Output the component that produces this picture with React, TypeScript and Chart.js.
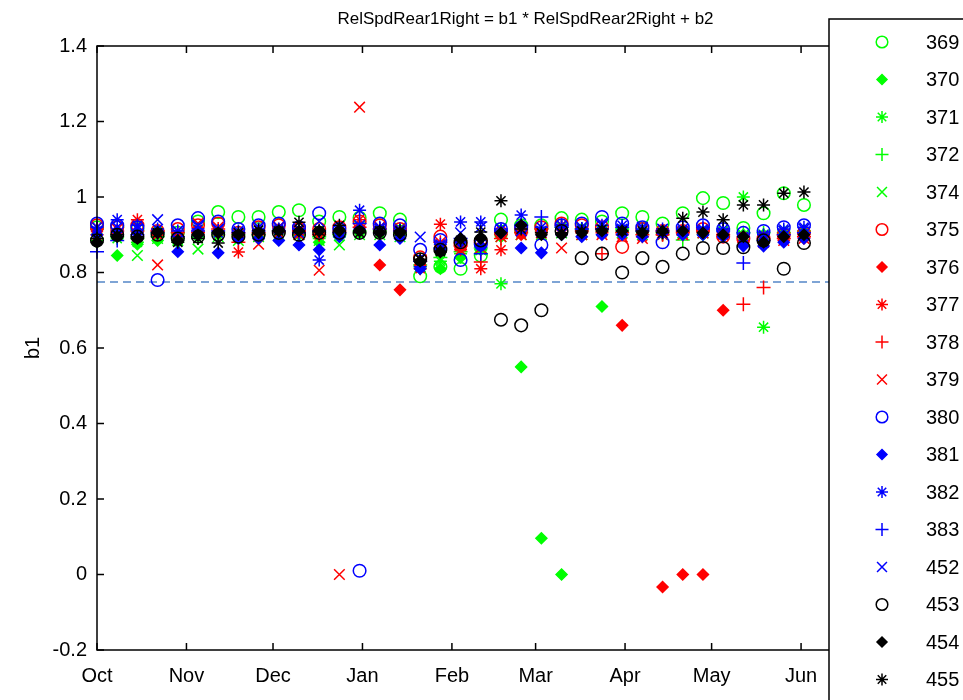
import React, { useEffect, useRef } from "react";
import { Chart, registerables } from "chart.js";
import { drawPoint } from "chart.js/helpers";

Chart.register(...registerables);

// ---------- data ----------
const titleText = "RelSpdRear1Right = b1 * RelSpdRear2Right + b2";
const yAxisLabel = "b1";

// days since 1 Oct (weekly samples)
const weekDays = [0, 7, 14, 21, 28, 35, 42, 49, 56, 63, 70, 77, 84, 91, 98, 105, 112, 119, 126, 133, 140, 147, 154, 161, 168, 175, 182, 189, 196, 203, 210, 217, 224, 231, 238, 245];

const monthTickDays = [0, 31, 61, 92, 123, 152, 183, 213, 244];
const monthLabels = ["Oct", "Nov", "Dec", "Jan", "Feb", "Mar", "Apr", "May", "Jun"];

const xMin = 0;
const xMax = 297;
const yMin = -0.2;
const yMax = 1.4;
const yStep = 0.2;
const refLine = 0.775;

const seriesNames = ["369", "370", "371", "372", "374", "375", "376", "377", "378", "379", "380", "381", "382", "383", "452", "453", "454", "455"];

const s369 = [0.92, 0.92, 0.915, 0.905, 0.905, 0.935, 0.96, 0.947, 0.947, 0.96, 0.965, 0.935, 0.947, 0.945, 0.957, 0.94, 0.79, 0.815, 0.81, 0.845, 0.94, 0.925, 0.925, 0.944, 0.94, 0.935, 0.957, 0.947, 0.93, 0.957, 0.997, 0.984, 0.918, 0.957, 1.01, 0.979];
const s370 = [0.88, 0.845, 0.875, 0.885, 0.88, 0.895, 0.9, 0.89, 0.89, 0.905, 0.9, 0.88, 0.895, 0.905, 0.905, 0.9, 0.81, 0.81, 0.84, 0.86, 0.895, 0.55, 0.096, 0, 0.915, 0.71, 0.915, 0.9, 0.905, 0.9, 0.9, 0.905, 0.9, 0.9, 0.905, 0.91];
const s371 = [0.885, 0.89, 0.88, 0.895, 0.885, 0.89, 0.905, 0.895, 0.895, 0.905, 0.905, 0.89, 0.895, 0.91, 0.905, 0.905, 0.815, 0.83, 0.85, 0.86, 0.77, 0.905, 0.91, 0.915, 0.91, 0.91, 0.91, 0.905, 0.9, 0.91, 0.915, 0.91, 1.0, 0.655, 0.91, 0.905];
const s372 = [0.89, 0.895, 0.89, 0.895, 0.89, 0.895, 0.905, 0.9, 0.9, 0.91, 0.905, 0.895, 0.9, 0.91, 0.91, 0.905, 0.82, 0.84, 0.855, 0.865, 0.9, 0.91, 0.915, 0.92, 0.915, 0.915, 0.915, 0.91, 0.905, 0.886, 0.915, 0.915, 0.905, 0.905, 0.905, 0.91];
const s374 = [0.89, 0.9, 0.845, 0.89, 0.885, 0.862, 0.895, 0.885, 0.895, 0.9, 0.9, 0.885, 0.873, 0.9, 0.9, 0.895, 0.815, 0.835, 0.85, 0.86, 0.895, 0.9, 0.9, 0.905, 0.9, 0.91, 0.905, 0.9, 0.9, 0.905, 0.905, 0.9, 0.9, 0.9, 0.9, 0.905];
const s375 = [0.925, 0.92, 0.925, 0.91, 0.915, 0.925, 0.93, 0.905, 0.92, 0.925, 0.915, 0.915, 0.92, 0.935, 0.925, 0.915, 0.84, 0.895, 0.875, 0.88, 0.905, 0.915, 0.92, 0.93, 0.925, 0.92, 0.868, 0.915, 0.91, 0.91, 0.915, 0.895, 0.89, 0.89, 0.9, 0.905];
const s376 = [0.91, 0.91, 0.905, 0.905, 0.9, 0.905, 0.905, 0.895, 0.91, 0.915, 0.905, 0.905, 0.91, 0.92, 0.82, 0.754, 0.82, 0.87, 0.865, 0.87, 0.9, 0.9, 0.905, 0.915, 0.91, 0.91, 0.66, 0.905, -0.033, 0, 0, 0.7, 0.88, 0.88, 0.885, 0.89];
const s377 = [0.9, 0.905, 0.94, 0.9, 0.895, 0.91, 0.91, 0.854, 0.9, 0.905, 0.91, 0.9, 0.905, 0.94, 0.915, 0.91, 0.81, 0.928, 0.86, 0.81, 0.86, 0.905, 0.91, 0.925, 0.905, 0.905, 0.9, 0.895, 0.9, 0.9, 0.905, 0.905, 0.885, 0.885, 0.89, 0.895];
const s378 = [0.915, 0.91, 0.91, 0.91, 0.905, 0.905, 0.915, 0.88, 0.905, 0.91, 0.91, 0.9, 0.91, 0.92, 0.915, 0.91, 0.83, 0.88, 0.87, 0.828, 0.89, 0.905, 0.915, 0.925, 0.91, 0.85, 0.905, 0.9, 0.9, 0.905, 0.91, 0.9, 0.716, 0.76, 0.89, 0.895];
const s379 = [0.92, 0.915, 0.92, 0.82, 0.9, 0.93, 0.92, 0.9, 0.875, 0.92, 0.9, 0.806, 0, 1.238, 0.92, 0.915, 0.835, 0.88, 0.87, 0.865, 0.895, 0.9, 0.905, 0.865, 0.9, 0.9, 0.895, 0.89, 0.905, 0.9, 0.905, 0.9, 0.885, 0.88, 0.885, 0.89];
const s380 = [0.93, 0.925, 0.92, 0.78, 0.925, 0.944, 0.935, 0.915, 0.925, 0.93, 0.92, 0.957, 0.915, 0.01, 0.93, 0.925, 0.86, 0.886, 0.833, 0.875, 0.915, 0.92, 0.873, 0.925, 0.93, 0.947, 0.93, 0.92, 0.88, 0.92, 0.925, 0.915, 0.905, 0.91, 0.92, 0.925];
const s381 = [0.9, 0.91, 0.905, 0.91, 0.855, 0.9, 0.852, 0.89, 0.89, 0.885, 0.873, 0.86, 0.895, 0.915, 0.873, 0.89, 0.81, 0.86, 0.88, 0.87, 0.905, 0.865, 0.852, 0.9, 0.895, 0.9, 0.9, 0.895, 0.905, 0.9, 0.9, 0.895, 0.87, 0.87, 0.88, 0.89];
const s382 = [0.92, 0.94, 0.925, 0.915, 0.91, 0.915, 0.905, 0.91, 0.915, 0.915, 0.915, 0.833, 0.915, 0.965, 0.92, 0.915, 0.815, 0.875, 0.934, 0.934, 0.915, 0.952, 0.92, 0.925, 0.915, 0.925, 0.925, 0.915, 0.915, 0.91, 0.915, 0.915, 0.895, 0.9, 0.915, 0.92];
const s383 = [0.855, 0.885, 0.9, 0.905, 0.895, 0.91, 0.91, 0.905, 0.91, 0.91, 0.905, 0.91, 0.905, 0.93, 0.915, 0.91, 0.83, 0.865, 0.89, 0.85, 0.91, 0.925, 0.947, 0.92, 0.915, 0.915, 0.92, 0.91, 0.91, 0.915, 0.92, 0.91, 0.825, 0.885, 0.9, 0.905];
const s452 = [0.91, 0.92, 0.915, 0.94, 0.91, 0.925, 0.915, 0.905, 0.92, 0.92, 0.905, 0.935, 0.91, 0.925, 0.915, 0.91, 0.894, 0.87, 0.905, 0.92, 0.915, 0.91, 0.91, 0.915, 0.92, 0.93, 0.915, 0.92, 0.915, 0.915, 0.91, 0.905, 0.89, 0.895, 0.91, 0.915];
const s453 = [0.885, 0.9, 0.895, 0.9, 0.89, 0.895, 0.9, 0.895, 0.9, 0.905, 0.9, 0.905, 0.905, 0.905, 0.905, 0.9, 0.835, 0.86, 0.88, 0.885, 0.675, 0.66, 0.7, 0.91, 0.838, 0.85, 0.8, 0.838, 0.815, 0.85, 0.865, 0.865, 0.867, 0.885, 0.81, 0.878];
const s454 = [0.88, 0.895, 0.89, 0.905, 0.885, 0.9, 0.905, 0.9, 0.905, 0.91, 0.91, 0.91, 0.91, 0.91, 0.905, 0.905, 0.83, 0.855, 0.89, 0.89, 0.905, 0.925, 0.9, 0.9, 0.905, 0.91, 0.91, 0.905, 0.91, 0.91, 0.905, 0.9, 0.895, 0.88, 0.895, 0.9];
const s455 = [0.89, 0.9, 0.895, 0.905, 0.88, 0.89, 0.878, 0.905, 0.912, 0.91, 0.933, 0.91, 0.925, 0.905, 0.91, 0.91, 0.835, 0.855, 0.885, 0.907, 0.99, 0.915, 0.905, 0.905, 0.91, 0.915, 0.91, 0.91, 0.905, 0.944, 0.96, 0.94, 0.979, 0.979, 1.01, 1.013];

const seriesValues = [s369, s370, s371, s372, s374, s375, s376, s377, s378, s379, s380, s381, s382, s383, s452, s453, s454, s455];

const seriesColors = ["#00ff00", "#00ff00", "#00ff00", "#00ff00", "#00ff00", "#ff0000", "#ff0000", "#ff0000", "#ff0000", "#ff0000", "#0000ff", "#0000ff", "#0000ff", "#0000ff", "#0000ff", "#000000", "#000000", "#000000"];
const seriesMarkers = ["circle", "rectRot", "star", "cross", "crossRot", "circle", "rectRot", "star", "cross", "crossRot", "circle", "rectRot", "star", "cross", "crossRot", "circle", "rectRot", "star"];

// ---------- styling ----------
const FONT = '"Liberation Sans", Arial, Helvetica, sans-serif';
const markerRadius: Record<string, number> = { circle: 6.3, rectRot: 5.5, star: 6.5, cross: 7, crossRot: 7.5 };
const markerFill = (style: string, color: string) => (style === "rectRot" ? color : "rgba(0,0,0,0)");

const framePlugin = {
  id: "matlabFrame",
  afterDraw(chart: any) {
    const { ctx, chartArea: a, scales } = chart;
    const xs = scales.x;
    const ys = scales.y;
    ctx.save();
    // axes box
    ctx.strokeStyle = "#000";
    ctx.lineWidth = 1.5;
    ctx.strokeRect(a.left, a.top, a.right - a.left, a.bottom - a.top);
    ctx.beginPath();
    for (const d of monthTickDays) {
      const px = xs.getPixelForValue(d);
      ctx.moveTo(px, a.bottom);
      ctx.lineTo(px, a.bottom - 7);
      ctx.moveTo(px, a.top);
      ctx.lineTo(px, a.top + 7);
    }
    for (const t of ys.ticks) {
      const py = ys.getPixelForValue(t.value);
      ctx.moveTo(a.left, py);
      ctx.lineTo(a.left + 7, py);
      ctx.moveTo(a.right, py);
      ctx.lineTo(a.right - 7, py);
    }
    ctx.stroke();

    // title
    ctx.fillStyle = "#000";
    ctx.font = `17px ${FONT}`;
    ctx.textAlign = "center";
    ctx.textBaseline = "alphabetic";
    ctx.fillText(titleText, (a.left + a.right) / 2, 24);

    // y label
    ctx.save();
    ctx.translate(33, (a.top + a.bottom) / 2);
    ctx.rotate(-Math.PI / 2);
    ctx.font = `20px ${FONT}`;
    ctx.textAlign = "center";
    ctx.textBaseline = "middle";
    ctx.fillText(yAxisLabel, 0, 0);
    ctx.restore();

    // legend box
    ctx.fillStyle = "#fff";
    ctx.fillRect(829, 19, 200, 720);
    ctx.strokeStyle = "#000";
    ctx.lineWidth = 1.5;
    ctx.strokeRect(829, 19, 200, 720);
    ctx.font = `20px ${FONT}`;
    ctx.textAlign = "left";
    ctx.textBaseline = "middle";
    seriesNames.forEach((name, i) => {
      const y = 42 + i * 37.5;
      const style = seriesMarkers[i];
      ctx.save();
      ctx.strokeStyle = seriesColors[i];
      ctx.fillStyle = markerFill(style, seriesColors[i]);
      ctx.lineWidth = 1.5;
      drawPoint(ctx, { pointStyle: style, radius: markerRadius[style] - 0.5, borderWidth: 1.5, rotation: 0 } as any, 882, y);
      ctx.restore();
      ctx.fillStyle = "#000";
      ctx.fillText(name, 926, y + 1);
    });
    ctx.restore();
  },
};

export default function App() {
  const ref = useRef<HTMLCanvasElement>(null);
  useEffect(() => {
    const canvas = ref.current;
    if (!canvas) return;
    const n = seriesNames.length;
    const datasets: any[] = seriesNames.map((name, i) => {
      const style = seriesMarkers[i];
      return {
        type: "scatter",
        label: name,
        data: weekDays.map((d, k) => ({ x: d, y: seriesValues[i][k] })),
        pointStyle: style,
        pointRadius: markerRadius[style],
        pointHoverRadius: markerRadius[style],
        borderColor: seriesColors[i],
        backgroundColor: markerFill(style, seriesColors[i]),
        pointBorderWidth: 1.5,
        showLine: false,
        clip: false,
        order: n - i,
      };
    });
    datasets.push({
      type: "line",
      label: "ref",
      data: [
        { x: xMin, y: refLine },
        { x: xMax, y: refLine },
      ],
      borderColor: "rgb(84,134,200)",
      borderWidth: 1.5,
      borderDash: [8, 5],
      pointRadius: 0,
      fill: false,
      order: 100,
    });

    const chart = new Chart(canvas, {
      type: "scatter",
      data: { datasets },
      options: {
        responsive: false,
        animation: false,
        devicePixelRatio: 1,
        events: [],
        layout: { padding: { left: 0, top: 46, right: 8, bottom: 0 } },
        plugins: {
          legend: { display: false },
          title: { display: false },
          tooltip: { enabled: false },
        },
        scales: {
          x: {
            type: "linear",
            min: xMin,
            max: xMax,
            grid: { display: false, drawTicks: false },
            border: { display: false },
            afterBuildTicks: (s: any) => {
              s.ticks = monthTickDays.map((v) => ({ value: v }));
            },
            afterFit: (s: any) => {
              s.height = 50;
            },
            ticks: {
              autoSkip: false,
              maxRotation: 0,
              padding: 14,
              color: "#000",
              font: { family: FONT, size: 20 },
              callback: (v: any) => {
                const idx = monthTickDays.indexOf(Number(v));
                return idx >= 0 ? monthLabels[idx] : "";
              },
            },
          },
          y: {
            type: "linear",
            min: yMin,
            max: yMax,
            grid: { display: false, drawTicks: false },
            border: { display: false },
            afterFit: (s: any) => {
              s.width = 97;
            },
            ticks: {
              stepSize: yStep,
              padding: 10,
              color: "#000",
              font: { family: FONT, size: 20 },
              callback: (v: any) => String(Number(Number(v).toFixed(1))),
            },
          },
        },
      },
      plugins: [framePlugin],
    } as any);
    return () => chart.destroy();
  }, []);

  return (
    <div style={{ position: "absolute", left: 0, top: 0, width: 963, height: 700, background: "#fff", overflow: "hidden" }}>
      <canvas ref={ref} width={963} height={700} style={{ display: "block", width: 963, height: 700 }} />
    </div>
  );
}
